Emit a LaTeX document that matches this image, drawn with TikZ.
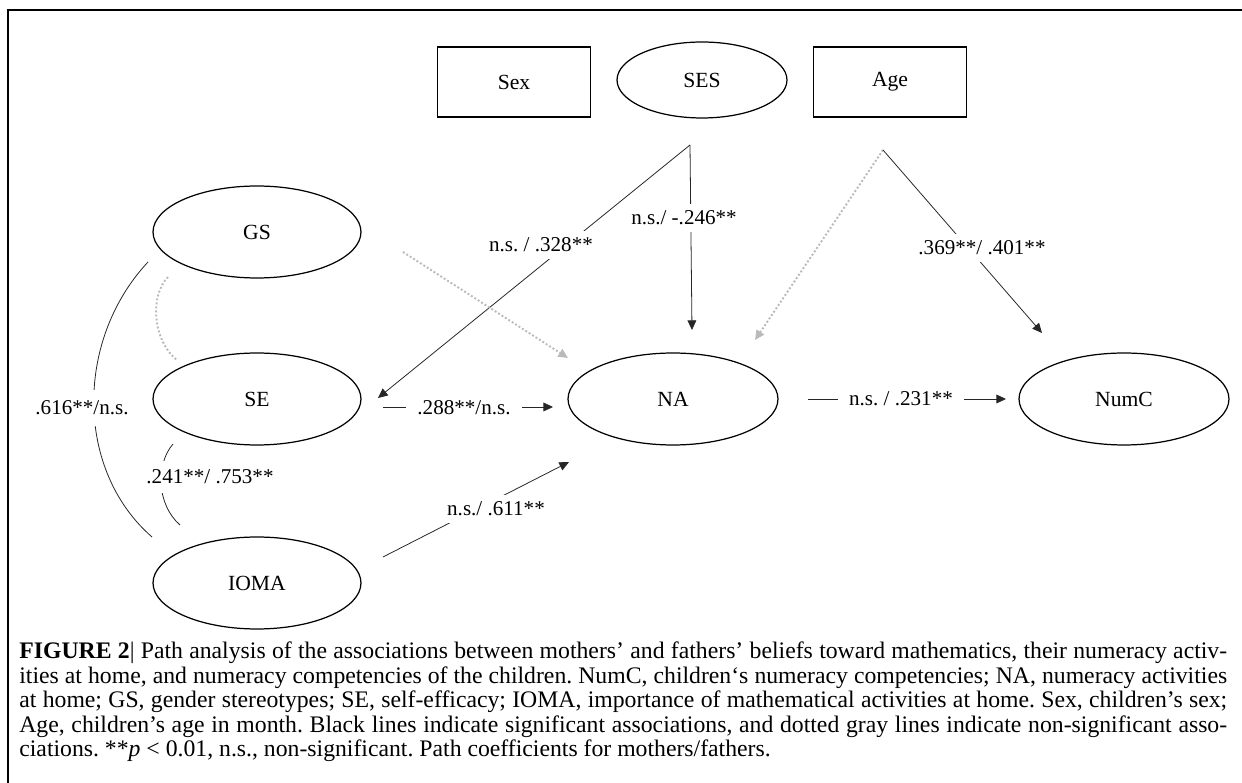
\documentclass[tikz,border=0pt]{standalone}
\usepackage{fontspec}
\setmainfont{Liberation Serif}
\usetikzlibrary{shapes.geometric,arrows.meta,calc}

\newcommand{\capline}[1]{\hbox to \hsize{#1}}

\begin{document}
\frenchspacing
\begin{tikzpicture}[x=0.02cm,y=-0.02cm,
  txt/.style={font=\fontsize{12.3}{14}\selectfont},
  ell/.style={txt, draw, ellipse, line width=0.7pt, inner sep=0pt, outer sep=0pt,
              minimum width=4.16cm, minimum height=1.84cm},
  box/.style={txt, draw, rectangle, line width=0.7pt, inner sep=0pt, outer sep=0pt,
              minimum width=3.06cm, minimum height=1.4cm},
  link/.style={line width=0.45pt, draw=black!85},
  arr/.style={link, -{Triangle[length=5.5pt,width=5pt]}},
  nslink/.style={draw=black!27, line width=1.1pt, dash pattern=on 1.1pt off 1.2pt},
  nsarr/.style={nslink, -{Triangle[length=5.5pt,width=5pt]}},
  lab/.style={font=\fontsize{12}{14}\selectfont, fill=white, inner xsep=2pt, inner ysep=4pt},
  hlab/.style={lab, inner xsep=6.5pt}
]
\useasboundingbox (0,0) rectangle (1242,783);

% frame
\draw[line width=1.1pt] (8,783) -- (8,10) -- (1242,10);

% covariates
\node[box] (Sex) at (514,82) {Sex};
\node[ell, minimum width=3.4cm, minimum height=1.52cm] (SES) at (702,80) {SES};
\node[box] (Age) at (890,82) {Age};

% parental beliefs, activities and outcome
\node[ell] (GS)   at (257,232) {GS};
\node[ell] (SE)   at (257,399) {SE};
\node[ell] (IOMA) at (257,583) {IOMA};
\node[ell, minimum width=4.2cm] (NA)   at (673,399) {NA};
\node[ell, minimum width=4.2cm] (NumC) at (1124,399) {NumC};

% branch points below SES and Age
\coordinate (sesA) at ($(SES.south)+(-12,27)$);
\coordinate (ageA) at ($(Age.south)+(-7,33)$);

% directed paths
\draw[arr] (sesA) -- ($(SE.east)+(17,-1)$);
\draw[arr] (sesA) -- ($(NA.north)+(19,-23)$);
\draw[nsarr] ($(GS.east)+(42,20)$) -- ($(NA.west)+(0,-41)$);
\draw[nsarr] (ageA) -- ($(NA.north)+(82,-13)$);
\draw[arr] (ageA) -- ($(NumC.north)+(-82,-20)$);
\draw[arr] ($(SE.east)+(22,8)$) -- ($(NA.west)+(-15,8)$);
\draw[arr] ($(NA.east)+(30,0)$) -- ($(NumC.west)+(-13,0)$);
\draw[arr] ($(IOMA.east)+(22,-26)$) -- ($(NA.south)+(-104,17)$);

% correlations
\coordinate (gsL)   at ($(GS.west)+(-5,30)$);
\coordinate (iomaL) at ($(IOMA.west)+(-1,-46)$);
\draw[link] (gsL) .. controls (75,340) and (75,470) .. (iomaL);
\coordinate (gsB) at (168,277);
\coordinate (seT) at (177,360);
\draw[nslink] (gsB) .. controls (150,295) and (152,340) .. (seT);
\coordinate (seB)   at (173,444);
\coordinate (iomaT) at (180,525);
\draw[link] (seB) .. controls (155,465) and (157,505) .. (iomaT);

% path coefficients (mothers / fathers)
\node[lab] (l1) at (541,245) {n.s. / .328**};
\node[lab] (l2) at (684,218) {n.s./ -.246**};
\node[lab] (l3) at (982,248) {.369**/ .401**};
\node[hlab] (l4) at (464,408) {.288**/n.s.};
\node[hlab] (l5) at (901,399) {n.s. / .231**};
\node[lab] (l6) at (496,509) {n.s./ .611**};
\node[lab, inner ysep=6pt] (l7) at (82,408) {.616**/n.s.};
\node[lab, inner ysep=5pt] (l8) at (210,477) {.241**/ .753**};

% caption
\node[anchor=base west, inner sep=0pt, font=\fontsize{13.5}{13.9}\selectfont] (cap) at (19,659)
{\parbox[t]{24.16cm}{%
\capline{\textbf{FIGURE 2}| Path analysis of the associations between mothers’ and fathers’ beliefs toward mathematics, their numeracy activ-}
\capline{ities at home, and numeracy competencies of the children. NumC, children‘s numeracy competencies; NA, numeracy activities}
\capline{at home; GS, gender stereotypes; SE, self-efficacy; IOMA, importance of mathematical activities at home. Sex, children’s sex;}
\capline{Age, children’s age in month. Black lines indicate significant associations, and dotted gray lines indicate non-significant asso-}
\hbox{ciations. **\textit{p} < 0.01, n.s., non-significant. Path coefficients for mothers/fathers.}}};
\end{tikzpicture}
\end{document}
